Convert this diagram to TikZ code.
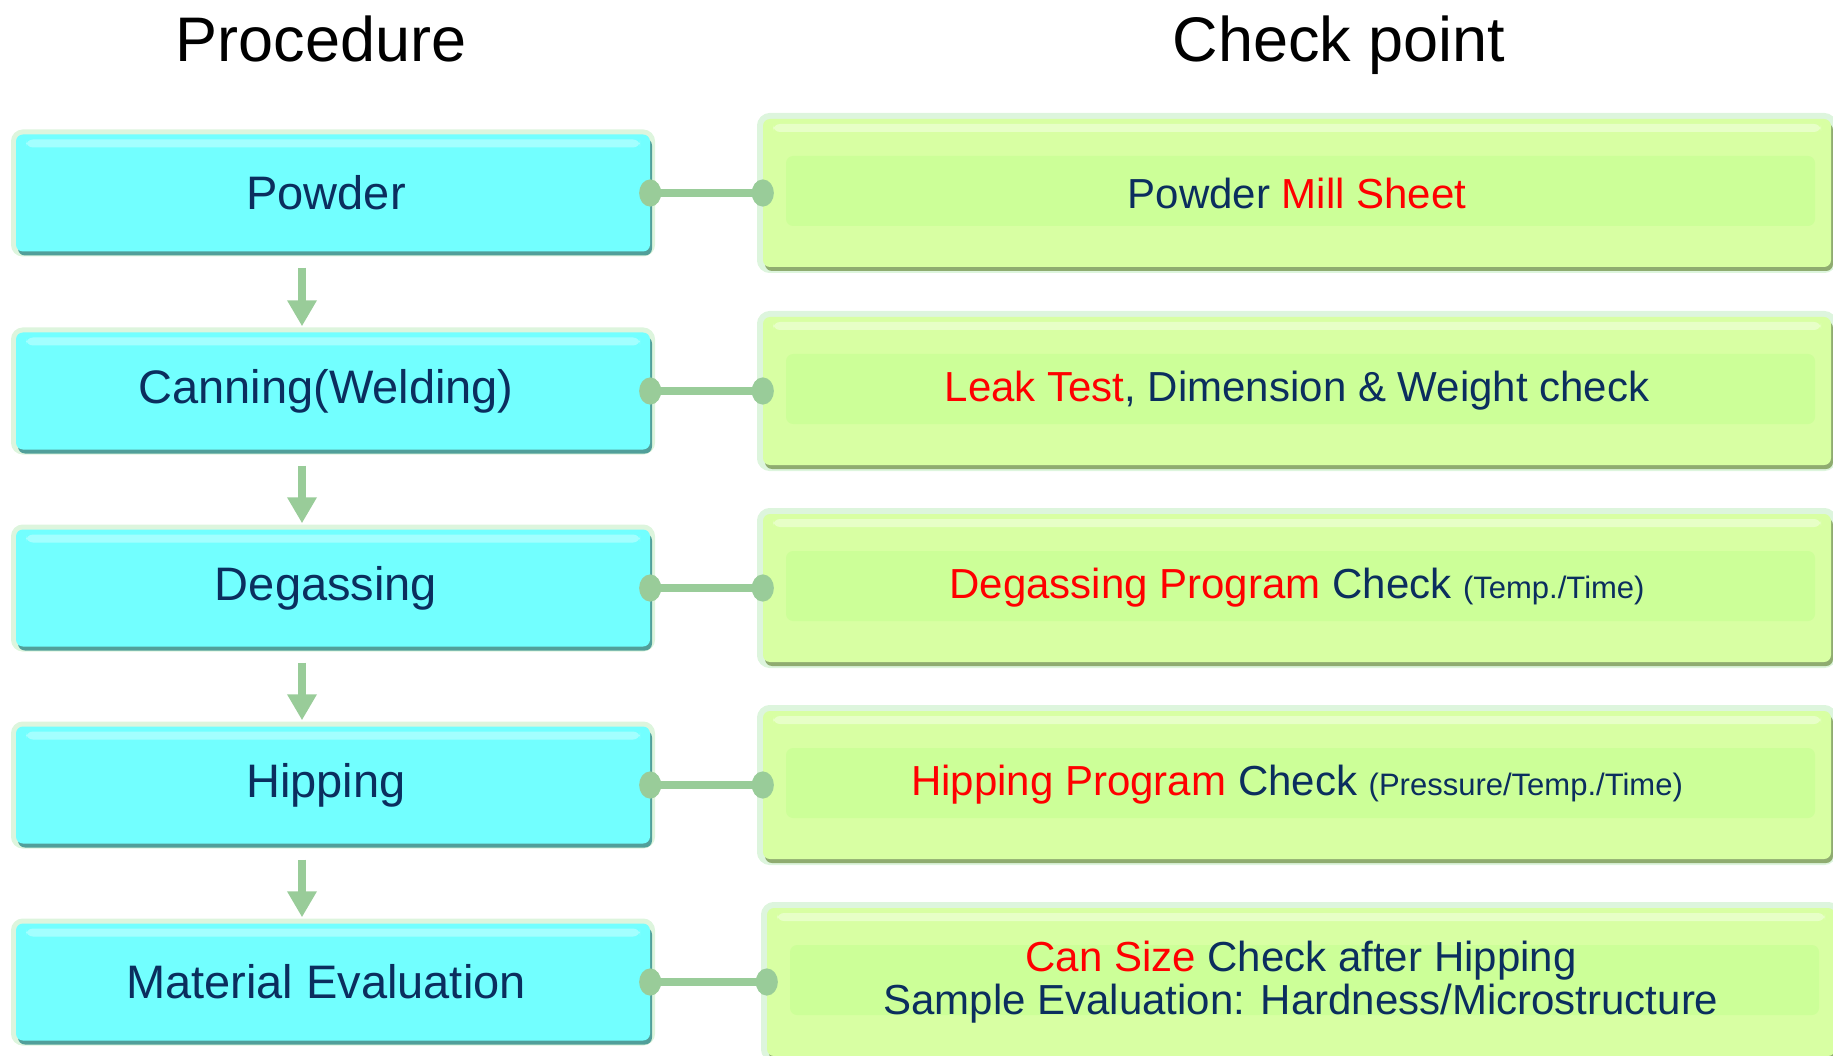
\documentclass[tikz,border=0pt]{standalone}
\usepackage{fontspec}
\setmainfont{Liberation Sans}
\usetikzlibrary{arrows.meta,shadows,calc}
\usepackage{xcolor}

\definecolor{procfill}{HTML}{72FFFF}
\definecolor{procedge}{HTML}{2E8A8A}
\definecolor{chkfill}{HTML}{D8FFA3}
\definecolor{chkband}{HTML}{CCFF98}
\definecolor{chkedge}{HTML}{7D9A56}
\definecolor{linkgreen}{HTML}{99CC99}
\definecolor{navy}{HTML}{0B2E5E}
\definecolor{glowgreen}{HTML}{C6EEC6}

\newcommand{\redtxt}[1]{\textcolor{red}{#1}}
\newcommand{\smalltxt}[1]{{\fontsize{31}{36}\selectfont #1}}
\newcommand{\lefttxt}{\hspace*{-14pt}}

\tikzset{
  title/.style={anchor=base,font=\fontsize{63}{70}\selectfont},
  procbox/.style={rounded corners=7pt,inner sep=0pt,
    minimum width=634pt,minimum height=117pt,
    fill=procfill,text=navy,font=\fontsize{47}{54}\selectfont,
    preaction={draw=glowgreen,line width=10pt,opacity=0.6},
    drop shadow={shadow xshift=2pt,shadow yshift=-4pt,fill=procedge,opacity=0.8},
    path picture={\fill[white,opacity=0.35]
      ([xshift=10pt,yshift=-5pt]path picture bounding box.north west) rectangle
      ([xshift=-10pt,yshift=-13pt]path picture bounding box.north east);}},
  chkbox/.style={rounded corners=7pt,inner sep=0pt,
    minimum width=1068pt,minimum height=148pt,
    fill=chkfill,text=navy,font=\fontsize{42}{43}\selectfont,align=center,
    preaction={draw=glowgreen,line width=12pt,opacity=0.6},
    drop shadow={shadow xshift=2pt,shadow yshift=-4pt,fill=chkedge,opacity=0.8},
    path picture={
      \fill[white,opacity=0.4]
        ([xshift=10pt,yshift=-5pt]path picture bounding box.north west) rectangle
        ([xshift=-10pt,yshift=-13pt]path picture bounding box.north east);
      \fill[chkband]
        ([xshift=23pt,yshift=-37pt]path picture bounding box.north west) rectangle
        ([xshift=-16pt,yshift=41pt]path picture bounding box.south east);}},
  flow/.style={-{Triangle[length=26pt,width=28pt]},line width=8pt,draw=linkgreen,
    shorten <=16pt,shorten >=6pt},
  link/.style={{Circle[length=22pt,width=27pt]}-{Circle[length=22pt,width=27pt]},
    line width=8pt,draw=linkgreen,shorten <=-11pt,shorten >=-11pt}
}

\begin{document}
\begin{tikzpicture}[x=1pt,y=-1pt]
  \useasboundingbox (0,0) rectangle (1833,1056);

  % titles
  \node[title] (tproc) at (321,62) {Procedure};
  \node[title] (tchk) at (1339,62) {Check point};

  % procedure
  \node[procbox] (p1) at (333,193) {\lefttxt Powder};
  \node[procbox] (p2) at (333,391) {\lefttxt Canning(Welding)};
  \node[procbox] (p3) at (333,588) {\lefttxt Degassing};
  \node[procbox] (p4) at (333,785) {\lefttxt Hipping};
  \node[procbox] (p5) at (333,982) {\lefttxt Material Evaluation};

  % check points
  \node[chkbox] (c1) at (1297,193) {Powder \redtxt{Mill Sheet}};
  \node[chkbox] (c2) at (1297,391) {\redtxt{Leak Test}, Dimension \& Weight check};
  \node[chkbox] (c3) at (1297,588) {\redtxt{Degassing Program} Check \smalltxt{(Temp./Time)}};
  \node[chkbox] (c4) at (1297,785) {\redtxt{Hipping Program} Check \smalltxt{(Pressure/Temp./Time)}};
  \node[chkbox] (c5) at (1301,982) {\redtxt{Can Size} Check after Hipping\\Sample Evaluation: Hardness/Microstructure};

  % flow
  \foreach \a/\b in {1/2,2/3,3/4,4/5}
    \draw[flow] ([xshift=-31pt]p\a.south) -- ([xshift=-31pt]p\b.north);

  % links
  \foreach \i in {1,...,5}
    \draw[link] (p\i.east) -- (c\i.west);
\end{tikzpicture}
\end{document}
